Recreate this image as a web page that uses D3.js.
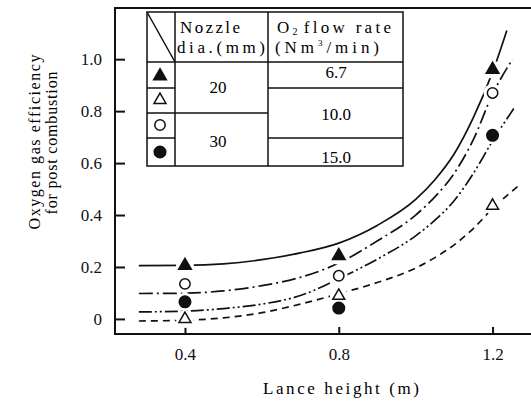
<!DOCTYPE html>
<html>
<head>
<meta charset="utf-8">
<script src="https://cdn.jsdelivr.net/npm/d3@7"></script>
<style>
  body { margin: 0; background: #fff; }
</style>
</head>
<body>
<div id="chart"></div>
<script>
var fontFam = "'Liberation Serif', 'Liberation Sans', Arial, sans-serif";

// axis ticks
var xTicks = [0.4, 0.8, 1.2];
var yTicks = [0, 0.2, 0.4, 0.6, 0.8, 1.0];

// measured points (lance height vs efficiency)
var lanceHeights = [0.4, 0.8, 1.2];
var effFilledTri = [0.205, 0.243, 0.96];     // 20 mm, 6.7 Nm3/min
var effOpenTri = [0.0, 0.089, 0.436];        // 20 mm, 10.0
var effOpenCircle = [0.135, 0.166, 0.87];    // 30 mm, 10.0
var effFilledCircle = [0.066, 0.042, 0.707]; // 30 mm, 15.0

// trend curves [height, efficiency]
var curveSolid = [[0.28, 0.205], [0.4, 0.206], [0.5, 0.212], [0.6, 0.228], [0.7, 0.254], [0.8, 0.292],
  [0.9, 0.36], [1.0, 0.46], [1.05, 0.536], [1.1, 0.635], [1.15, 0.775], [1.2, 0.95], [1.237, 1.11]];
var curveDashDot = [[0.28, 0.098], [0.4, 0.099], [0.5, 0.108], [0.6, 0.128], [0.7, 0.16], [0.8, 0.215],
  [0.9, 0.3], [1.0, 0.4], [1.05, 0.47], [1.1, 0.56], [1.15, 0.69], [1.2, 0.865], [1.252, 1.0]];
var curveDashDotDot = [[0.28, 0.027], [0.4, 0.03], [0.5, 0.04], [0.6, 0.057], [0.7, 0.09], [0.8, 0.155],
  [0.9, 0.23], [1.0, 0.32], [1.05, 0.38], [1.1, 0.455], [1.15, 0.56], [1.2, 0.685], [1.258, 0.816]];
var curveDashed = [[0.28, -0.008], [0.4, -0.005], [0.5, 0.004], [0.6, 0.024], [0.7, 0.057], [0.8, 0.097],
  [0.9, 0.14], [1.0, 0.196], [1.05, 0.236], [1.1, 0.285], [1.15, 0.348], [1.2, 0.425], [1.272, 0.518]];

// legend table
var nozzleDia = ["20", "30"];
var flowRates = ["6.7", "10.0", "15.0"];

var W = 531, H = 401;
var svg = d3.select("#chart").append("svg")
  .attr("width", W).attr("height", H)
  .attr("font-family", fontFam);

var x = d3.scaleLinear().domain([0.218, 1.3]).range([115, 531]);
var y = d3.scaleLinear().domain([-0.058, 1.197]).range([334, 8]);

// frame
svg.append("path")
  .attr("d", "M531,8H115V334H531")
  .attr("fill", "none").attr("stroke", "#111").attr("stroke-width", 2);

// y axis
var yAxis = d3.axisLeft(y).tickValues(yTicks)
  .tickSizeInner(-10).tickSizeOuter(0).tickPadding(13)
  .tickFormat(function (d) { return d === 0 ? "0" : d.toFixed(1); });
var gy = svg.append("g").attr("transform", "translate(115,0)").call(yAxis)
  .attr("font-family", fontFam).attr("font-size", 17);
gy.select(".domain").remove();
gy.selectAll("line").attr("stroke", "#111").attr("stroke-width", 2);
gy.selectAll("text").attr("fill", "#111");

// x axis
var xAxis = d3.axisBottom(x).tickValues(xTicks)
  .tickSizeInner(-7).tickSizeOuter(0).tickPadding(14)
  .tickFormat(d3.format(".1f"));
var gx = svg.append("g").attr("transform", "translate(0,334)").call(xAxis)
  .attr("font-family", fontFam).attr("font-size", 17);
gx.select(".domain").remove();
gx.selectAll("line").attr("stroke", "#111").attr("stroke-width", 2);
gx.selectAll("text").attr("fill", "#111");

// axis titles
svg.append("text")
  .attr("x", 341).attr("y", 394)
  .attr("text-anchor", "middle")
  .attr("textLength", 156)
  .attr("font-size", 17)
  .text("Lance height (m)");

svg.append("text")
  .attr("transform", "translate(40,142) rotate(-90)")
  .attr("text-anchor", "middle")
  .attr("textLength", 175)
  .attr("font-size", 16)
  .text("Oxygen gas efficiency");
svg.append("text")
  .attr("transform", "translate(57,143) rotate(-90)")
  .attr("text-anchor", "middle")
  .attr("textLength", 143)
  .attr("font-size", 16)
  .text("for post combustion");

// curves
var line = d3.line()
  .x(function (d) { return x(d[0]); })
  .y(function (d) { return y(d[1]); })
  .curve(d3.curveMonotoneX);

var curves = [
  { data: curveSolid, dash: null },
  { data: curveDashDot, dash: "14,4,2,4" },
  { data: curveDashDotDot, dash: "13,3,2,3,2,3" },
  { data: curveDashed, dash: "7,5" }
];
svg.selectAll(".curve").data(curves).enter().append("path")
  .attr("class", "curve")
  .attr("d", function (d) { return line(d.data); })
  .attr("fill", "none")
  .attr("stroke", "#111")
  .attr("stroke-width", 1.7)
  .attr("stroke-dasharray", function (d) { return d.dash; });

// markers
var markerSets = [
  { vals: effFilledTri, type: d3.symbolTriangle, size: 70, fill: "#111" },
  { vals: effOpenTri, type: d3.symbolTriangle, size: 62, fill: "#fff" },
  { vals: effOpenCircle, type: d3.symbolCircle, size: 85, fill: "#fff" },
  { vals: effFilledCircle, type: d3.symbolCircle, size: 105, fill: "#111" }
];

var pts = [];
markerSets.forEach(function (m) {
  m.vals.forEach(function (v, i) {
    pts.push({ x: lanceHeights[i], y: v, m: m });
  });
});

// white halo so curves break around the symbols
svg.selectAll(".halo").data(pts).enter().append("circle")
  .attr("class", "halo")
  .attr("cx", function (d) { return x(d.x); })
  .attr("cy", function (d) { return y(d.y); })
  .attr("r", 9)
  .attr("fill", "#fff");

svg.selectAll(".pt").data(pts).enter().append("path")
  .attr("class", "pt")
  .attr("transform", function (d) { return "translate(" + x(d.x) + "," + y(d.y) + ")"; })
  .attr("d", function (d) { return d3.symbol().type(d.m.type).size(d.m.size)(); })
  .attr("fill", function (d) { return d.m.fill; })
  .attr("stroke", "#111")
  .attr("stroke-width", 1.5);

// legend table
var tb = svg.append("g");
var tl = 147, tr = 403, tt = 12, tbm = 166, c1 = 175, c2 = 268, hb = 62;
tb.append("rect").attr("x", tl).attr("y", tt).attr("width", tr - tl).attr("height", tbm - tt)
  .attr("fill", "#fff").attr("stroke", "#111").attr("stroke-width", 1.5);
var tlines = [
  [c1, tt, c1, tbm], [c2, tt, c2, tbm], [tl, hb, tr, hb], [tl, tt, c1, hb],
  [tl, 88, c1, 88], [tl, 113, c1, 113], [tl, 138, c1, 138],
  [c1, 113, c2, 113],
  [c2, 88, tr, 88], [c2, 138, tr, 138]
];
tb.selectAll("line").data(tlines).enter().append("line")
  .attr("x1", function (d) { return d[0]; }).attr("y1", function (d) { return d[1]; })
  .attr("x2", function (d) { return d[2]; }).attr("y2", function (d) { return d[3]; })
  .attr("stroke", "#111").attr("stroke-width", 1.5);

tb.append("text").attr("x", 180).attr("y", 33).attr("textLength", 60).attr("font-size", 17).text("Nozzle");
tb.append("text").attr("x", 177).attr("y", 53).attr("textLength", 88).attr("font-size", 17).text("dia.(mm)");
var o2 = tb.append("text").attr("x", 277).attr("y", 33).attr("font-size", 17).attr("textLength", 114);
o2.append("tspan").text("O");
o2.append("tspan").attr("dy", 2).attr("font-size", 10).text("2");
o2.append("tspan").attr("dy", -2).attr("dx", 3).text("flow rate");
var nm = tb.append("text").attr("x", 275).attr("y", 53).attr("font-size", 17).attr("textLength", 104);
nm.append("tspan").text("(Nm");
nm.append("tspan").attr("dy", -7).attr("font-size", 9).text("3");
nm.append("tspan").attr("dy", 7).text("/min)");

var nozzleY = [93, 147];
tb.selectAll(".nz").data(nozzleDia).enter().append("text")
  .attr("x", 218).attr("y", function (d, i) { return nozzleY[i]; })
  .attr("text-anchor", "middle").attr("font-size", 17)
  .text(function (d) { return d; });
var flowY = [78, 120, 163];
tb.selectAll(".fr").data(flowRates).enter().append("text")
  .attr("x", 336).attr("y", function (d, i) { return flowY[i]; })
  .attr("text-anchor", "middle").attr("font-size", 17)
  .text(function (d) { return d; });

var legY = [76, 100, 125, 152];
tb.selectAll(".lg").data(markerSets).enter().append("path")
  .attr("transform", function (d, i) { return "translate(160," + legY[i] + ")"; })
  .attr("d", function (d) { return d3.symbol().type(d.type).size(d.size)(); })
  .attr("fill", function (d) { return d.fill; })
  .attr("stroke", "#111").attr("stroke-width", 1.5);
</script>
</body>
</html>
